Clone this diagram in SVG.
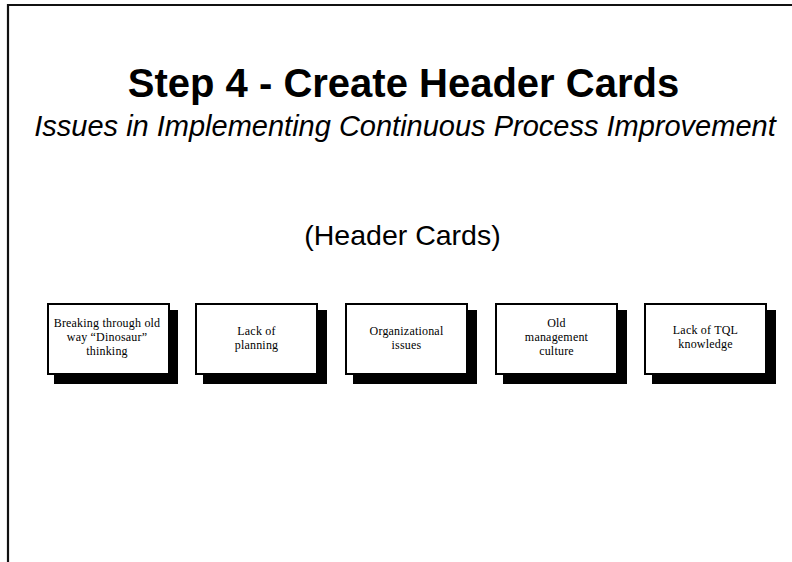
<svg xmlns="http://www.w3.org/2000/svg" width="792" height="562" viewBox="0 0 792 562">
  <style>
    .frame { fill: none; stroke: #111; stroke-width: 2.2; }
    .shadow { fill: #000; }
    .card { fill: #fff; stroke: #000; stroke-width: 2; }
    .title { font-family: "Liberation Sans", Arial, sans-serif; font-weight: bold; font-size: 40px; fill: #000; }
    .subtitle { font-family: "Liberation Sans", Arial, sans-serif; font-style: italic; font-size: 29px; fill: #000; }
    .caption { font-family: "Liberation Sans", Arial, sans-serif; font-size: 28.5px; fill: #000; }
    .label { font-family: "Liberation Serif", "Times New Roman", serif; font-size: 12px; letter-spacing: 0.2px; fill: #000; text-anchor: middle; }
  </style>
  <rect width="792" height="562" fill="#fff"/>
  <!-- page frame: top and left edges only -->
  <path class="frame" d="M8,562 V5 H792"/>

  <text class="title" x="403.5" y="97" text-anchor="middle">Step 4 - Create Header Cards</text>
  <text class="subtitle" x="405" y="136" text-anchor="middle">Issues in Implementing Continuous Process Improvement</text>
  <text class="caption" x="402.5" y="245" text-anchor="middle">(Header Cards)</text>

  <g id="card-dinosaur">
    <rect class="shadow" x="54" y="310" width="124" height="74"/>
    <rect class="card" x="48" y="304" width="121" height="70"/>
    <text class="label" x="107" y="327">Breaking through old</text>
    <text class="label" x="107" y="341">way “Dinosaur”</text>
    <text class="label" x="107" y="355">thinking</text>
  </g>
  <g id="card-planning">
    <rect class="shadow" x="203" y="310" width="124" height="74"/>
    <rect class="card" x="196" y="304" width="121" height="70"/>
    <text class="label" x="256.5" y="335">Lack of</text>
    <text class="label" x="256.5" y="349">planning</text>
  </g>
  <g id="card-organizational">
    <rect class="shadow" x="353" y="310" width="124" height="74"/>
    <rect class="card" x="346" y="304" width="121" height="70"/>
    <text class="label" x="406.5" y="335">Organizational</text>
    <text class="label" x="406.5" y="349">issues</text>
  </g>
  <g id="card-culture">
    <rect class="shadow" x="503" y="310" width="124" height="74"/>
    <rect class="card" x="496" y="304" width="121" height="70"/>
    <text class="label" x="556.5" y="327">Old</text>
    <text class="label" x="556.5" y="341">management</text>
    <text class="label" x="556.5" y="355">culture</text>
  </g>
  <g id="card-tql">
    <rect class="shadow" x="652" y="310" width="124" height="74"/>
    <rect class="card" x="645" y="304" width="121" height="70"/>
    <text class="label" x="705.5" y="334">Lack of TQL</text>
    <text class="label" x="705.5" y="348">knowledge</text>
  </g>
  <g id="connectors"/>
</svg>
